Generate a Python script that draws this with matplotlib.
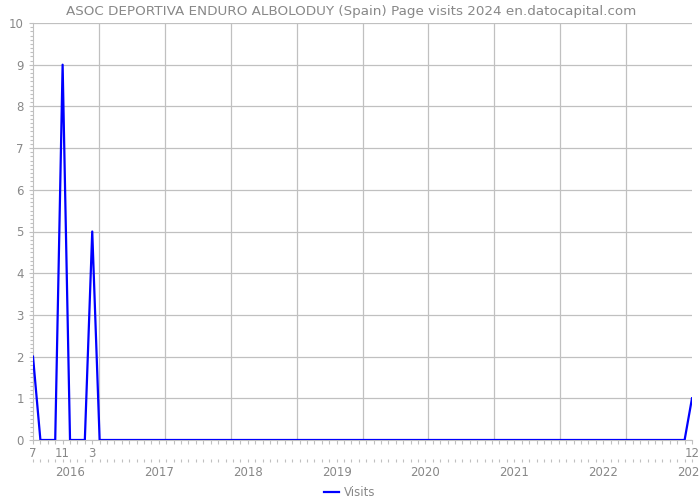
import matplotlib
matplotlib.use("Agg")
import matplotlib.pyplot as plt
from matplotlib.ticker import MultipleLocator, FixedLocator, FixedFormatter
import numpy as np

# monthly page visits, Jul 2015 .. Dec 2022
visits = [2, 0, 0, 0, 9, 0, 0, 0, 5] + [0] * 80 + [1]
month_ticks = [0, 4, 8, 89]
month_labels = ['7', '11', '3', '12']
year_ticks = [5, 17, 29, 41, 53, 65, 77, 89]
year_labels = ['2016', '2017', '2018', '2019', '2020', '2021', '2022', '2023']

GREY = '#888888'
GRID = '#c0c0c0'

plt.rcParams['font.family'] = 'DejaVu Sans'

fig = plt.figure(figsize=(7, 5), dpi=100)
ax = fig.add_axes([33/700, 60/500, 659/700, 417/500])

x = np.arange(len(visits))
ax.plot(x, visits, color='#0000ff', lw=1.6, label='Visits', zorder=3)

ax.set_xlim(0, len(visits) - 1)
ax.set_ylim(0, 10)

# grid: horizontal at each unit, vertical splitting the range into 10 parts
ax.yaxis.set_major_locator(MultipleLocator(1))
ax.yaxis.set_minor_locator(MultipleLocator(0.1))
ax.grid(axis='y', color=GRID, lw=0.9)
for gx in np.linspace(0, len(visits) - 1, 11)[1:-1]:
    ax.axvline(gx, color=GRID, lw=0.9, zorder=1)

ax.xaxis.set_major_locator(FixedLocator(month_ticks))
ax.xaxis.set_major_formatter(FixedFormatter(month_labels))
ax.xaxis.set_minor_locator(MultipleLocator(1))

for s in ['top', 'right']:
    ax.spines[s].set_visible(False)
for s in ['left', 'bottom']:
    ax.spines[s].set_color(GRID)

ax.tick_params(axis='both', which='both', colors=GRID, labelcolor=GREY,
               labelsize=8.5, length=3, width=0.8)
ax.tick_params(axis='x', pad=2)
ax.tick_params(axis='y', which='minor', length=2)

# second row: years
sec = ax.secondary_xaxis(-0.045)
sec.spines['bottom'].set_visible(False)
sec.xaxis.set_major_locator(FixedLocator(year_ticks))
sec.xaxis.set_major_formatter(FixedFormatter(year_labels))
sec.xaxis.set_minor_locator(MultipleLocator(1))
sec.tick_params(axis='x', which='both', colors=GRID, labelcolor=GREY,
                labelsize=8.5, length=2, width=0.8, pad=3)

ax.text(0.483, 1.0 + 12/417, 'ASOC DEPORTIVA ENDURO ALBOLODUY (Spain) Page visits 2024 en.datocapital.com',
        transform=ax.transAxes, ha='center', va='center', color=GREY, fontsize=9.7)

ax.legend(loc='upper center', bbox_to_anchor=(0.48, -0.085), frameon=False,
          fontsize=8.5, labelcolor=GREY, handlelength=1.3, handletextpad=0.4)

fig.savefig('out.png', dpi=100)
